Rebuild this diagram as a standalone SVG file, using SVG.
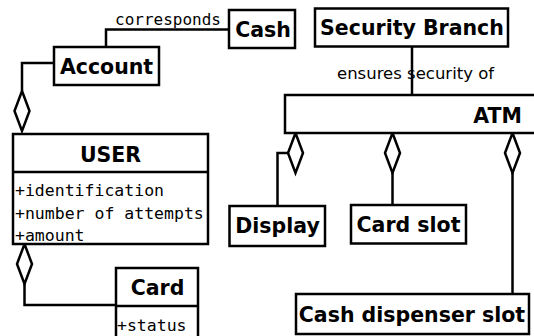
<svg xmlns="http://www.w3.org/2000/svg" width="534" height="336" viewBox="0 0 534 336">
<style>
.box{fill:#fff;stroke:#000;stroke-width:2.5}
.ln{fill:none;stroke:#000;stroke-width:2.5}
.dia{fill:#fff;stroke:#000;stroke-width:2.5;stroke-linejoin:miter}
.t{font-family:"DejaVu Sans",sans-serif;font-weight:bold;font-size:20.5px;fill:#000}
.m{font-family:"DejaVu Sans Mono",monospace;font-size:16.5px;fill:#000}
.l{font-family:"DejaVu Sans",sans-serif;font-size:16.5px;fill:#000}
</style>
<defs>
<path id="dm" d="M0,0 L7.5,20 L0,40 L-7.5,20 Z"/>
</defs>
<rect width="534" height="336" fill="#fff"/>
<g id="connectors">
<polyline class="ln" points="106,47 106,29.5 229,29.5"/>
<text class="m" x="115" y="25" style="font-size:16px">corresponds</text>
<polyline class="ln" points="54,63 22,63 22,91"/>
<use href="#dm" class="dia" x="22" y="91"/>
<use href="#dm" class="dia" x="24.5" y="244"/>
<polyline class="ln" points="24.5,284 24.5,305 116,305"/>
<line class="ln" x1="412" y1="47" x2="412" y2="95"/>
<text class="l" x="337" y="79">ensures security of</text>
<use href="#dm" class="dia" x="295.5" y="133"/>
<polyline class="ln" points="288,153 277.5,153 277.5,206"/>
<use href="#dm" class="dia" x="392.5" y="133"/>
<line class="ln" x1="392.5" y1="173" x2="392.5" y2="205"/>
<use href="#dm" class="dia" x="512.5" y="133"/>
<line class="ln" x1="512.5" y1="173" x2="512.5" y2="294"/>
</g>
<g id="cash">
<rect class="box" x="229" y="10" width="66" height="38"/>
<text class="t" x="263" y="37" text-anchor="middle">Cash</text>
</g>
<g id="account">
<rect class="box" x="54" y="47" width="105" height="38"/>
<text class="t" x="106.5" y="74" text-anchor="middle">Account</text>
</g>
<g id="user">
<rect class="box" x="13" y="134" width="195" height="110"/>
<line class="ln" x1="13" y1="172" x2="208" y2="172"/>
<text class="t" x="110.5" y="162" text-anchor="middle">USER</text>
<text class="m" x="15" y="196">+identification</text>
<text class="m" x="15" y="218.5">+number of attempts</text>
<text class="m" x="15" y="241">+amount</text>
</g>
<g id="card">
<rect class="box" x="116" y="268" width="82" height="70"/>
<line class="ln" x1="116" y1="306" x2="198" y2="306"/>
<text class="t" x="157.5" y="295" text-anchor="middle">Card</text>
<text class="m" x="117" y="331">+status</text>
</g>
<g id="security">
<rect class="box" x="315" y="8.5" width="193" height="38"/>
<text class="t" x="412" y="35" text-anchor="middle">Security Branch</text>
</g>
<g id="atm">
<rect class="box" x="285" y="95" width="260" height="38"/>
<text class="t" x="522" y="123" text-anchor="end">ATM</text>
</g>
<g id="display">
<rect class="box" x="229.5" y="206" width="95.5" height="40"/>
<text class="t" x="277.5" y="233" text-anchor="middle">Display</text>
</g>
<g id="cardslot">
<rect class="box" x="351" y="205" width="115" height="38.5"/>
<text class="t" x="408.5" y="232" text-anchor="middle">Card slot</text>
</g>
<g id="dispenser">
<rect class="box" x="296" y="294" width="233" height="40"/>
<text class="t" x="412" y="322" text-anchor="middle">Cash dispenser slot</text>
</g>
</svg>
